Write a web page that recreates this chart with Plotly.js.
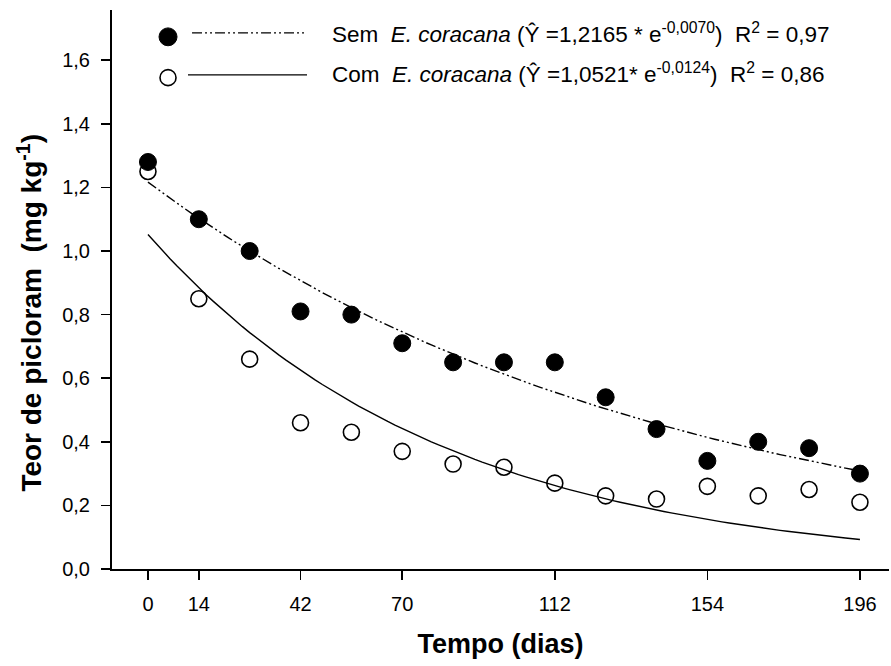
<!DOCTYPE html>
<html>
<head>
<meta charset="utf-8">
<script src="https://cdn.plot.ly/plotly-3.0.1.min.js"></script>
<style>html,body{margin:0;padding:0;background:#fff;}#chart{width:891px;height:666px;}</style>
</head>
<body>
<div id="chart"></div>
<script>
// Sampling days
const days = [0, 14, 28, 42, 56, 70, 84, 98, 112, 126, 140, 154, 168, 182, 196];
// Picloram content (mg kg-1), without E. coracana (filled circles)
const semValues = [1.28, 1.10, 1.00, 0.81, 0.80, 0.71, 0.65, 0.65, 0.65, 0.54, 0.44, 0.34, 0.40, 0.38, 0.30];
// Picloram content (mg kg-1), with E. coracana (open circles)
const comValues = [1.25, 0.85, 0.66, 0.46, 0.43, 0.37, 0.33, 0.32, 0.27, 0.23, 0.22, 0.26, 0.23, 0.25, 0.21];
// Fitted model coefficients shown in the legend: Y = a * exp(b * x)
const semA = 1.2165, semB = -0.0070;
const comA = 1.0521, comB = -0.0124;
// Tick values / labels
const xTickVals = [0, 14, 42, 70, 112, 154, 196];
const xTickText = ["0", "14", "42", "70", "112", "154", "196"];
const yTickVals = [0, 0.2, 0.4, 0.6, 0.8, 1.0, 1.2, 1.4, 1.6];
const yTickText = ["0,0", "0,2", "0,4", "0,6", "0,8", "1,0", "1,2", "1,4", "1,6"];
// Legend labels
const semLabel = "Sem  <i>E. coracana</i> (Ŷ =1,2165 * e<sup>-0,0070</sup>)  R<sup>2</sup> = 0,97";
const comLabel = "Com  <i>E. coracana</i> (Ŷ =1,0521* e<sup>-0,0124</sup>)  R<sup>2</sup> = 0,86";
const xTitle = "<b>Tempo (dias)</b>";
const yTitle = "<b>Teor de picloram  (mg kg<sup>-1</sup>)</b>";

// fitted curves evaluated from the displayed model
const fitX = [];
for (let d = 0; d <= 196; d += 2) fitX.push(d);
const semFit = fitX.map(d => semA * Math.exp(semB * d));
const comFit = fitX.map(d => comA * Math.exp(comB * d));

const font = "Liberation Sans, Arial, sans-serif";
const dashDotDot = "10px,3px,2px,3px,2px,3px";

const traces = [
  {x: fitX, y: semFit, mode: "lines", line: {color: "#000", width: 1.4, dash: dashDotDot}, showlegend: false, hoverinfo: "skip"},
  {x: fitX, y: comFit, mode: "lines", line: {color: "#000", width: 1.4}, showlegend: false, hoverinfo: "skip"},
  {x: days, y: semValues, mode: "markers", name: "Sem E. coracana",
   marker: {symbol: "circle", size: 17, color: "#000", line: {color: "#000", width: 1}}, showlegend: false},
  {x: days, y: comValues, mode: "markers", name: "Com E. coracana",
   marker: {symbol: "circle-open", size: 16, color: "#000", line: {color: "#000", width: 1.6}}, showlegend: false}
];

const layout = {
  width: 891, height: 666,
  margin: {l: 112, r: 2, t: 10, b: 97},
  paper_bgcolor: "#fff", plot_bgcolor: "#fff",
  font: {family: font, color: "#000", size: 20},
  showlegend: false,
  xaxis: {
    range: [-9.9, 204], showgrid: false, zeroline: false,
    showline: true, linecolor: "#000", linewidth: 2,
    ticks: "outside", ticklen: 9, tickwidth: 1.5, tickcolor: "#000",
    tickvals: xTickVals, ticktext: xTickText, ticklabelstandoff: 7,
    tickfont: {family: font, size: 20, color: "#000"},
    title: {text: xTitle, font: {family: font, size: 27, color: "#000"}, standoff: 20}
  },
  yaxis: {
    range: [0, 1.758], showgrid: false, zeroline: false,
    showline: true, linecolor: "#000", linewidth: 2,
    ticks: "outside", ticklen: 9, tickwidth: 1.5, tickcolor: "#000",
    tickvals: yTickVals, ticktext: yTickText, ticklabelstandoff: 7,
    tickfont: {family: font, size: 20, color: "#000"}
  },
  shapes: [
    // legend symbols
    {type: "circle", xref: "paper", yref: "paper", x0: 0.0605, x1: 0.0837, y0: 0.936, y1: 0.968, fillcolor: "#000", line: {color: "#000", width: 1}},
    {type: "line", xref: "paper", yref: "paper", x0: 0.103, x1: 0.251, y0: 0.959, y1: 0.959, line: {color: "#000", width: 1.4, dash: dashDotDot}},
    {type: "circle", xref: "paper", yref: "paper", x0: 0.0618, x1: 0.0824, y0: 0.8647, y1: 0.8933, fillcolor: "#fff", line: {color: "#000", width: 1.6}},
    {type: "line", xref: "paper", yref: "paper", x0: 0.0978, x1: 0.251, y0: 0.884, y1: 0.884, line: {color: "#000", width: 1.4}}
  ],
  annotations: [
    {xref: "paper", yref: "paper", x: 0.2805, y: 0.958, xanchor: "left", yanchor: "middle", showarrow: false,
     text: semLabel, font: {family: font, size: 22.5, color: "#000"}},
    {xref: "paper", yref: "paper", x: 0.2805, y: 0.888, xanchor: "left", yanchor: "middle", showarrow: false,
     text: comLabel, font: {family: font, size: 22.5, color: "#000"}},
    {xref: "paper", yref: "paper", x: -0.106, y: 0.458, xanchor: "center", yanchor: "middle", showarrow: false,
     textangle: -90, text: yTitle, font: {family: font, size: 28, color: "#000"}}
  ]
};

Plotly.newPlot("chart", traces, layout, {displayModeBar: false, staticPlot: true});
</script>
</body>
</html>
